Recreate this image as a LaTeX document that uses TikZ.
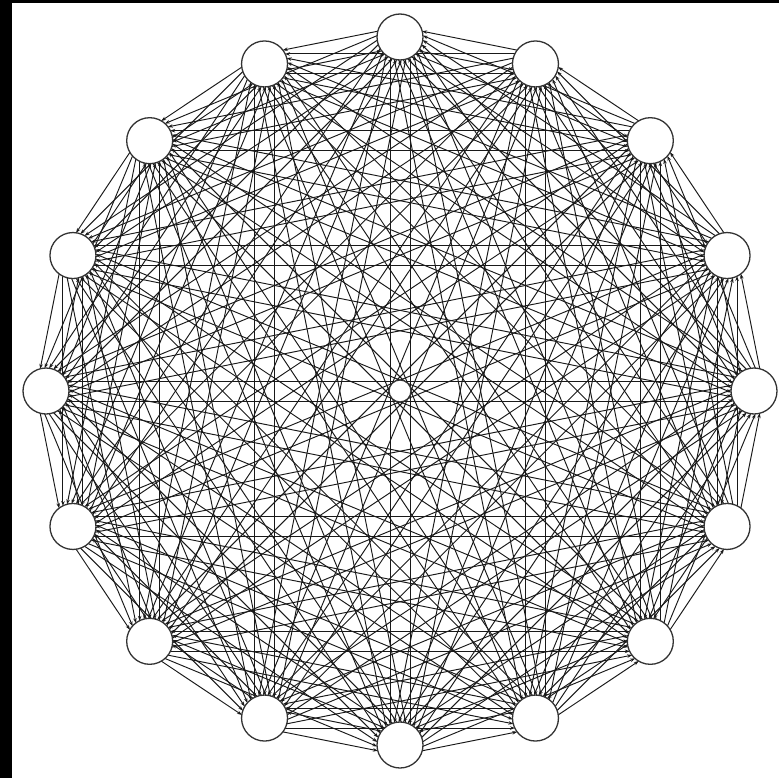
\documentclass[tikz,border=0pt]{standalone}
\usetikzlibrary{arrows.meta,calc,backgrounds}
\tikzset{
  vertex/.style={circle,draw=black!80,line width=1.3bp,fill=white,minimum size=46bp,inner sep=0pt},
  hub/.style={circle,draw=black!80,line width=1.3bp,fill=white,minimum size=22bp,inner sep=0pt},
  edge/.style={draw=black!90,line width=0.95bp,-{Stealth[length=5bp,width=3.5bp]},shorten <=20.5bp,shorten >=20.5bp}
}
\begin{document}
\begin{tikzpicture}[x=1bp,y=-1bp]
\useasboundingbox (0,0) rectangle (779,778);
\foreach \i in {0,...,15}{
  \pgfmathsetmacro\ang{90-22.5*\i}
  \node[vertex] (n\i) at ({400+354*cos(\ang)},{391-354*sin(\ang)}) {};
}
\node[hub] (c) at (400,391) {};
\begin{scope}[on background layer]
\fill[white] (0,0) rectangle (779,778);
\fill[black] (0,0) rectangle (12,778);
\fill[black] (0,0) rectangle (779,3);
\foreach \i in {0,...,15}{
  \foreach \j in {0,...,15}{
    \ifnum\j=\i\relax\else
      \draw[edge] ($(n\i.center)!10bp!-90:(n\j.center)$) -- ($(n\j.center)!10bp!90:(n\i.center)$);
    \fi
  }
}
\end{scope}
\end{tikzpicture}
\end{document}
